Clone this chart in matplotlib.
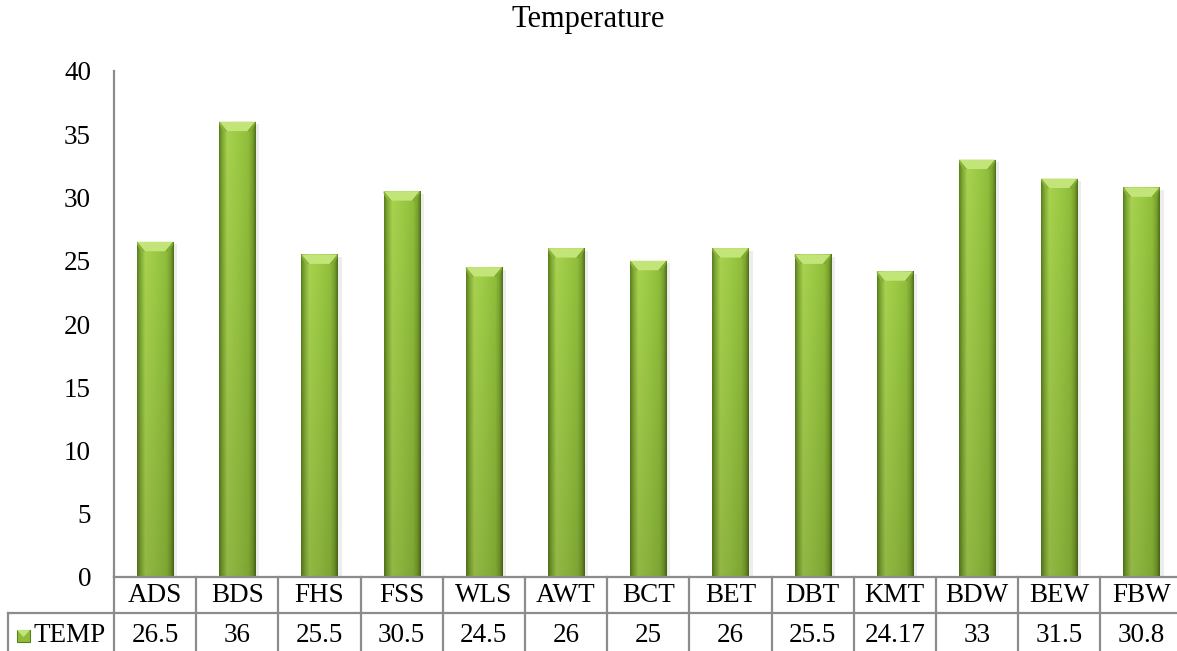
import matplotlib
matplotlib.use("Agg")
import matplotlib.pyplot as plt
import numpy as np
from matplotlib.colors import to_rgb
from matplotlib.patches import Rectangle, Polygon
from matplotlib.transforms import blended_transform_factory

plt.rcParams['font.family'] = ['Liberation Serif', 'DejaVu Serif']

categories = ["ADS", "BDS", "FHS", "FSS", "WLS", "AWT", "BCT", "BET", "DBT", "KMT", "BDW", "BEW", "FBW"]
temp = [26.5, 36, 25.5, 30.5, 24.5, 26, 25, 26, 25.5, 24.17, 33, 31.5, 30.8]
series_name = "TEMP"
yticks = [0, 5, 10, 15, 20, 25, 30, 35, 40]

W, H = 1177, 651
fig = plt.figure(figsize=(W / 100, H / 100), dpi=100)

fs = 19.5

# plot area in pixels (chart was cropped a little on the right)
step = 82.2
x_left, y_top, y_zero = 114, 71, 577
ax = fig.add_axes([x_left / W, (H - y_zero) / H, step * len(categories) / W, (y_zero - y_top) / H])
ax.set_xlim(-0.5, len(categories) - 0.5)
ax.set_ylim(0, 40)

grid_col = "#8c8c8c"
for s in ["top", "right", "bottom"]:
    ax.spines[s].set_visible(False)
ax.spines["left"].set_color(grid_col)
ax.spines["left"].set_linewidth(1.6)
ax.set_xticks([])
ax.set_yticks(yticks)
ax.tick_params(axis="y", length=0, pad=16.5, labelsize=fs)

# bar gradient
stops = [(0.0, "#5c801f"), (0.08, "#7ca632"), (0.22, "#a8d24f"), (0.5, "#9dcb45"),
         (0.8, "#90be3b"), (0.92, "#78a02d"), (1.0, "#50711a")]
xs = np.linspace(0, 1, 60)
prof = np.array([[np.interp(x, [s[0] for s in stops], [to_rgb(s[1])[c] for s in stops]) for c in range(3)] for x in xs])
ny = 200
vert = np.linspace(1.0, 0.87, ny)[:, None, None]  # top -> bottom darkening
grad = np.clip(prof[None, :, :] * vert, 0, 1)

bw = 0.44
bars = ax.bar(range(len(categories)), temp, width=bw, color="#9dcb45", linewidth=0, zorder=2)
for i, (b, v) in enumerate(zip(bars, temp)):
    x0, x1 = i - bw / 2, i + bw / 2
    # soft shadow
    ax.add_patch(Rectangle((x1, 0), 0.05, v - 0.2, color="#000000", alpha=0.07, lw=0, zorder=1))
    im = ax.imshow(grad, extent=[x0, x1, 0, v], aspect="auto", zorder=3, interpolation="bilinear")
    im.set_clip_path(b)
    # top bevel
    d, e = bw * 0.22, 0.75
    ax.add_patch(Polygon([(x0, v), (x1, v), (x1 - d, v - e), (x0 + d, v - e)],
                         closed=True, color="#c2e478", lw=0, zorder=4))
    ax.add_patch(Polygon([(x0, v), (x0 + d, v - e), (x0 + d * 0.6, v - e * 1.1), (x0, v - 0.2)],
                         closed=True, color="#8cb43a", lw=0, zorder=4))
    ax.add_patch(Polygon([(x1, v), (x1 - d, v - e), (x1 - d * 0.6, v - e * 1.1), (x1, v - 0.2)],
                         closed=True, color="#82ab34", lw=0, zorder=4))

ax.set_xlim(-0.5, len(categories) - 0.5)
ax.set_ylim(0, 40)

# data table under the plot
bt = blended_transform_factory(ax.transData, fig.transFigure)
ft = fig.transFigure


def fy(py):
    return 1 - py / H


row1_bot = 613
lw = 1.6
# horizontal lines
fig.add_artist(plt.Line2D([x_left / W, 1.01], [fy(y_zero)] * 2, color=grid_col, lw=lw))
fig.add_artist(plt.Line2D([8 / W, 1.01], [fy(row1_bot)] * 2, color=grid_col, lw=lw))
# left borders
fig.add_artist(plt.Line2D([x_left / W] * 2, [fy(y_zero), fy(H + 5)], color=grid_col, lw=lw))
fig.add_artist(plt.Line2D([8 / W] * 2, [fy(row1_bot), fy(H + 5)], color=grid_col, lw=lw))
for k in range(1, len(categories) + 1):
    ax.plot([k - 0.5, k - 0.5], [fy(y_zero), fy(H + 5)], transform=bt, color=grid_col, lw=lw, clip_on=False)

for i, (c, v) in enumerate(zip(categories, temp)):
    ax.text(i, fy(596), c, transform=bt, ha="center", va="center", fontsize=fs, clip_on=False)
    ax.text(i, fy(636), f"{v:g}", transform=bt, ha="center", va="center", fontsize=fs, clip_on=False)

# legend key + series name
key = Rectangle((17 / W, fy(642)), 13 / W, 12 / H, transform=ft, facecolor="#8fbd3a",
                edgecolor="#5c801f", lw=0.8)
fig.add_artist(key)
fig.add_artist(Polygon([(17 / W, fy(630)), (30 / W, fy(630)), (23.5 / W, fy(637))],
                       closed=True, transform=ft, color="#c2e478", lw=0))
fig.text(33 / W, fy(636), series_name, ha="left", va="center", fontsize=fs)

fig.text(0.5, fy(19), "Temperature", ha="center", va="center", fontsize=22)

fig.savefig("out.png", dpi=100)
